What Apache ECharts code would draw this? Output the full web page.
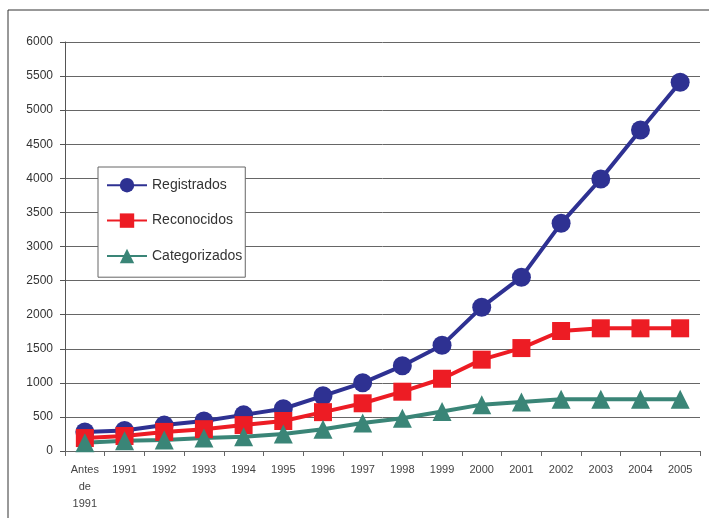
<!DOCTYPE html>
<html><head><meta charset="utf-8">
<script src="https://cdn.jsdelivr.net/npm/echarts@6/dist/echarts.min.js"></script>
<style>html,body{margin:0;padding:0;background:#fff}#c{width:709px;height:518px}</style>
</head><body><div id="c"></div>
<script>
const categories = ['Antes\nde\n1991','1991','1992','1993','1994','1995','1996','1997','1998','1999','2000','2001','2002','2003','2004','2005'];
const registrados = [280,300,380,440,530,620,810,1000,1250,1550,2110,2550,3340,3990,4710,5410];
const reconocidos = [190,220,280,320,380,440,570,700,870,1060,1340,1510,1760,1800,1800,1800];
const categorizados = [120,150,160,190,210,250,320,410,480,580,680,720,760,760,760,760];

const chart = echarts.init(document.getElementById('c'), null, {renderer:'canvas'});
const font = 'Liberation Sans Narrow, Arial Narrow, Liberation Sans, sans-serif';
function s(name, data, color, symbol, size){
  return {name, type:'line', data, symbol, symbolSize:size, showSymbol:true,
    lineStyle:{color, width:4}, itemStyle:{color}, z: 2};
}
chart.setOption({
  animation:false,
  textStyle:{fontFamily:font},
  graphic:[{type:'rect', shape:{x:8,y:10,width:720,height:530}, style:{fill:'none', stroke:'#333', lineWidth:1}, silent:true}],
  grid:{left:65, right:9, top:42, bottom:67, containLabel:false},
  legend:{
    orient:'vertical', left:98, top:167,
    data:['Registrados','Reconocidos','Categorizados'],
    backgroundColor:'#fff', borderColor:'#666', borderWidth:1,
    padding:[11,3,14,8], itemGap:21, itemWidth:40, itemHeight:18,
    textStyle:{fontSize:14, color:'#333', fontFamily:font}
  },
  xAxis:{type:'category', data:categories, boundaryGap:true,
    axisLine:{lineStyle:{color:'#666'}},
    axisTick:{show:true, interval:0, length:5, lineStyle:{color:'#666'}},
    axisLabel:{interval:0, fontSize:11, color:'#444', lineHeight:17, margin:10, fontFamily:font}
  },
  yAxis:{type:'value', min:0, max:6000, interval:500,
    axisLine:{show:true, lineStyle:{color:'#555'}},
    axisTick:{show:true, length:5, lineStyle:{color:'#555'}},
    splitLine:{lineStyle:{color:'#666', width:1}},
    axisLabel:{fontSize:12, color:'#333', margin:12, fontFamily:font, formatter:v=>String(v)}
  },
  series:[
    s('Registrados', registrados, '#2E3192', 'circle', 19),
    s('Reconocidos', reconocidos, '#ED1C24', 'rect', 18),
    s('Categorizados', categorizados, '#3A8577', 'triangle', 19)
  ]
});
</script></body></html>
